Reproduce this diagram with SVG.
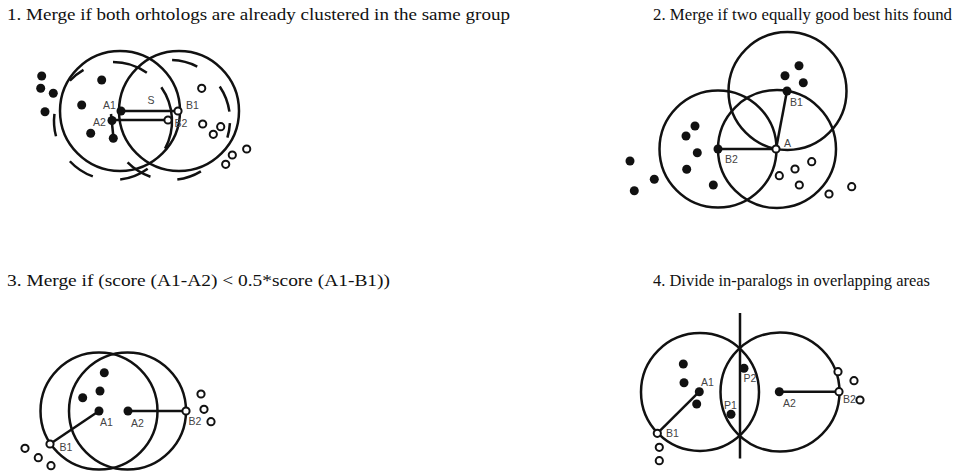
<svg xmlns="http://www.w3.org/2000/svg" width="964" height="471" viewBox="0 0 964 471">
<style>
.t{font-family:"Liberation Serif","Times New Roman",serif;font-size:17px;fill:#111}
.l{font-family:"Liberation Sans",Arial,sans-serif;font-size:10.5px;fill:#444}
.c{fill:none;stroke:#111;stroke-width:2.5}
.d{fill:none;stroke:#111;stroke-width:2.5}
.e{stroke:#111;stroke-width:2.5;fill:none}
.f{fill:#111}
.o{fill:#fff;stroke:#111;stroke-width:2}
</style>
<rect width="964" height="471" fill="#fff"/>
<g id="titles">
<text class="t" x="7" y="20" textLength="503" lengthAdjust="spacingAndGlyphs">1. Merge if both orhtologs are already clustered in the same group</text>
<text class="t" x="653" y="20" textLength="299" lengthAdjust="spacingAndGlyphs">2. Merge if two equally good best hits found</text>
<text class="t" x="7" y="286" textLength="383" lengthAdjust="spacingAndGlyphs">3. Merge if (score (A1-A2) &lt; 0.5*score (A1-B1))</text>
<text class="t" x="653" y="286" textLength="277" lengthAdjust="spacingAndGlyphs">4. Divide in-paralogs in overlapping areas</text>
</g>
<!-- Panel 1 -->
<g id="panel1-circles">
<circle class="c" cx="120" cy="111" r="60"/>
<circle class="c" cx="179" cy="111" r="60"/>
<path class="d" d="M69.85,80.76 A59,59 0 0 1 83.5,69.91 M113,62 A59,59 0 0 1 146.84,72.67 M161.33,87.16 A59,59 0 0 1 165.09,148.7 M147.68,168.73 A59,59 0 0 1 120.19,179.56 M92.82,176.44 A59,59 0 0 1 69.85,161.24 M56.01,136.27 A59,59 0 0 1 54.44,113.81"/>
<path class="d" d="M172.09,60.04 A60,60 0 0 1 197.24,66.54 M219.74,86.45 A60,60 0 0 1 229.42,111.65 M229.92,123.14 A60,60 0 0 1 227.38,137.54 M200.9,171.43 A60,60 0 0 1 177.31,179.55 M150.46,176.73 A60,60 0 0 1 127.57,162.43"/>
</g>
<g id="panel1-connectors">
<line class="e" x1="121" y1="111" x2="178" y2="111" stroke-width="3"/>
<line class="e" x1="112" y1="120" x2="168" y2="120" stroke-width="3"/>
<line class="e" x1="111" y1="114" x2="113.5" y2="138"/>
</g>
<g id="panel1-nodes">
<circle class="f" cx="41.7" cy="76" r="4.5"/>
<circle class="f" cx="40.7" cy="88.3" r="4.5"/>
<circle class="f" cx="53.3" cy="93.3" r="4.5"/>
<circle class="f" cx="45" cy="111.7" r="4.5"/>
<circle class="f" cx="101.7" cy="80" r="4.5"/>
<circle class="f" cx="81.7" cy="105" r="4.5"/>
<circle class="f" cx="90.7" cy="133.3" r="4.5"/>
<circle class="f" cx="113.3" cy="138.3" r="4.5"/>
<circle class="f" cx="121" cy="111" r="4.5"/>
<circle class="f" cx="112" cy="120.5" r="4.5"/>
<circle class="o" cx="178" cy="111" r="3.6"/>
<circle class="o" cx="168" cy="120" r="3.6"/>
<circle class="o" cx="201.7" cy="88.3" r="3.6"/>
<circle class="o" cx="202.7" cy="124" r="3.6"/>
<circle class="o" cx="220.7" cy="126.7" r="3.6"/>
<circle class="o" cx="213.3" cy="134.3" r="3.6"/>
<circle class="o" cx="246.7" cy="149" r="3.6"/>
<circle class="o" cx="232.3" cy="155" r="3.6"/>
<circle class="o" cx="225.7" cy="164.3" r="3.6"/>
<text class="l" x="103" y="109">A1</text>
<text class="l" x="93" y="125.5">A2</text>
<text class="l" x="147.5" y="104">S</text>
<text class="l" x="186" y="109">B1</text>
<text class="l" x="174.5" y="127">B2</text>
</g>
<!-- Panel 2 -->
<g id="panel2-circles">
<circle class="c" cx="718" cy="149" r="58.5"/>
<circle class="c" cx="777" cy="149" r="59"/>
<circle class="c" cx="787.5" cy="91" r="59"/>
</g>
<g id="panel2-connectors">
<line class="e" x1="776" y1="149" x2="718" y2="149"/>
<line class="e" x1="776" y1="149" x2="787" y2="91"/>
</g>
<g id="panel2-nodes">
<circle class="f" cx="695" cy="126" r="4.5"/>
<circle class="f" cx="686" cy="136" r="4.5"/>
<circle class="f" cx="697.3" cy="152.7" r="4.5"/>
<circle class="f" cx="686.7" cy="169.3" r="4.5"/>
<circle class="f" cx="713.3" cy="185" r="4.5"/>
<circle class="f" cx="630" cy="161" r="4.5"/>
<circle class="f" cx="654.3" cy="179.3" r="4.5"/>
<circle class="f" cx="634.3" cy="190.7" r="4.5"/>
<circle class="f" cx="799" cy="65.7" r="4.5"/>
<circle class="f" cx="785" cy="75.7" r="4.5"/>
<circle class="f" cx="803.3" cy="82.7" r="4.5"/>
<circle class="f" cx="787" cy="91" r="4.5"/>
<circle class="f" cx="718" cy="149" r="4.5"/>
<circle class="o" cx="776" cy="149" r="3.6"/>
<circle class="o" cx="811.7" cy="161.7" r="3.6"/>
<circle class="o" cx="795" cy="169" r="3.6"/>
<circle class="o" cx="779.3" cy="175.7" r="3.6"/>
<circle class="o" cx="799.3" cy="185" r="3.6"/>
<circle class="o" cx="829" cy="194" r="3.6"/>
<circle class="o" cx="851.7" cy="186.7" r="3.6"/>
<text class="l" x="790" y="106">B1</text>
<text class="l" x="784" y="147">A</text>
<text class="l" x="725" y="163">B2</text>
</g>
<!-- Panel 3 -->
<g id="panel3-circles">
<circle class="c" cx="99" cy="411" r="58.5"/>
<circle class="c" cx="127.5" cy="411" r="58.5"/>
</g>
<g id="panel3-connectors">
<line class="e" x1="99" y1="411" x2="50" y2="444"/>
<line class="e" x1="128" y1="411" x2="186" y2="411"/>
</g>
<g id="panel3-nodes">
<circle class="f" cx="104.3" cy="372.7" r="4.5"/>
<circle class="f" cx="100" cy="391" r="4.5"/>
<circle class="f" cx="82.7" cy="397.7" r="4.5"/>
<circle class="f" cx="99" cy="411" r="4.5"/>
<circle class="f" cx="128" cy="411" r="4.5"/>
<circle class="o" cx="50" cy="444" r="3.6"/>
<circle class="o" cx="186" cy="411" r="3.6"/>
<circle class="o" cx="25" cy="448.3" r="3.6"/>
<circle class="o" cx="38.3" cy="457.7" r="3.6"/>
<circle class="o" cx="51" cy="465.7" r="3.6"/>
<circle class="o" cx="201" cy="394" r="3.6"/>
<circle class="o" cx="204" cy="409.3" r="3.6"/>
<circle class="o" cx="211" cy="421.7" r="3.6"/>
<text class="l" x="100" y="425.5">A1</text>
<text class="l" x="131" y="426.5">A2</text>
<text class="l" x="59.5" y="450.5">B1</text>
<text class="l" x="188.5" y="425">B2</text>
</g>
<!-- Panel 4 -->
<g id="panel4-circles">
<circle class="c" cx="700" cy="392" r="59"/>
<circle class="c" cx="780" cy="392" r="59.5"/>
</g>
<g id="panel4-connectors">
<line class="e" x1="740" y1="313" x2="740" y2="458.5" stroke-width="3"/>
<line class="e" x1="699.3" y1="391.7" x2="657.3" y2="433.3"/>
<line class="e" x1="779.3" y1="391.7" x2="839" y2="391.7"/>
</g>
<g id="panel4-nodes">
<circle class="f" cx="683.3" cy="364" r="4.5"/>
<circle class="f" cx="684" cy="382.7" r="4.5"/>
<circle class="f" cx="696.7" cy="404" r="4.5"/>
<circle class="f" cx="699.3" cy="391.7" r="4.5"/>
<circle class="f" cx="744" cy="368.3" r="4.5"/>
<circle class="f" cx="731" cy="414.3" r="4.5"/>
<circle class="f" cx="779.3" cy="391.7" r="4.5"/>
<circle class="o" cx="657.3" cy="433.3" r="3.6"/>
<circle class="o" cx="659.3" cy="447.3" r="3.6"/>
<circle class="o" cx="659.3" cy="460.7" r="3.6"/>
<circle class="o" cx="838" cy="371.7" r="3.6"/>
<circle class="o" cx="839" cy="391.7" r="3.6"/>
<circle class="o" cx="854" cy="380.7" r="3.6"/>
<circle class="o" cx="860" cy="400" r="3.6"/>
<text class="l" x="701" y="386">A1</text>
<text class="l" x="666" y="437">B1</text>
<text class="l" x="743.5" y="382">P2</text>
<text class="l" x="724" y="409">P1</text>
<text class="l" x="783" y="406.5">A2</text>
<text class="l" x="843" y="403">B2</text>
</g>
</svg>
